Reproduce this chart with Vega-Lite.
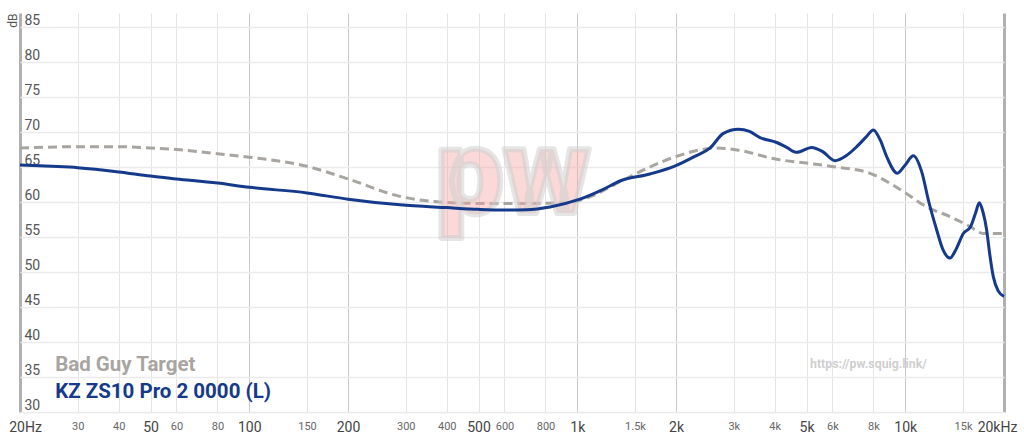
{
  "$schema": "https://vega.github.io/schema/vega-lite/v6.json",
  "width": 984,
  "height": 399,
  "autosize": "none",
  "padding": {"left": 20, "top": 13, "right": 20, "bottom": 31},
  "background": "white",
  "config": {"font": "Roboto", "view": {"stroke": null}},
  "datasets": {
    "target": [
      {"f": 20, "db": 67.7}, {"f": 30, "db": 67.9}, {"f": 40, "db": 67.9}, {"f": 50, "db": 67.7},
      {"f": 60, "db": 67.5}, {"f": 80, "db": 66.9}, {"f": 100, "db": 66.4}, {"f": 150, "db": 65.1},
      {"f": 200, "db": 63.3}, {"f": 288, "db": 60.8}, {"f": 381, "db": 60.0}, {"f": 500, "db": 59.8},
      {"f": 700, "db": 59.8}, {"f": 928, "db": 59.9}, {"f": 1100, "db": 60.8}, {"f": 1350, "db": 62.9},
      {"f": 1666, "db": 65.0}, {"f": 2000, "db": 66.5}, {"f": 2661, "db": 67.7}, {"f": 3100, "db": 67.4},
      {"f": 4056, "db": 66.1}, {"f": 5124, "db": 65.5}, {"f": 6130, "db": 65.0}, {"f": 7808, "db": 64.1},
      {"f": 9864, "db": 61.5}, {"f": 11628, "db": 59.3}, {"f": 13692, "db": 57.9}, {"f": 15750, "db": 56.5},
      {"f": 17298, "db": 55.5}, {"f": 20000, "db": 55.5}
    ],
    "measurement": [
      {"f": 20, "db": 65.3}, {"f": 25, "db": 65.1}, {"f": 30, "db": 64.9}, {"f": 40, "db": 64.3},
      {"f": 50, "db": 63.7}, {"f": 60, "db": 63.3}, {"f": 80, "db": 62.7}, {"f": 100, "db": 62.1},
      {"f": 150, "db": 61.3}, {"f": 200, "db": 60.4}, {"f": 288, "db": 59.6}, {"f": 400, "db": 59.2},
      {"f": 500, "db": 58.95}, {"f": 600, "db": 58.85}, {"f": 700, "db": 58.9}, {"f": 826, "db": 59.3},
      {"f": 1019, "db": 60.4}, {"f": 1200, "db": 61.8}, {"f": 1350, "db": 63.0}, {"f": 1666, "db": 64.0},
      {"f": 2000, "db": 65.2}, {"f": 2300, "db": 66.6}, {"f": 2538, "db": 67.7}, {"f": 2789, "db": 69.8},
      {"f": 3098, "db": 70.4}, {"f": 3350, "db": 70.1}, {"f": 3607, "db": 69.2}, {"f": 4056, "db": 68.5},
      {"f": 4350, "db": 67.8}, {"f": 4666, "db": 67.1}, {"f": 5186, "db": 67.8}, {"f": 5600, "db": 67.2},
      {"f": 6106, "db": 65.9}, {"f": 6600, "db": 66.6}, {"f": 7112, "db": 67.9}, {"f": 7600, "db": 69.3},
      {"f": 7992, "db": 70.3}, {"f": 8400, "db": 68.8}, {"f": 8774, "db": 66.5}, {"f": 9458, "db": 64.1},
      {"f": 10000, "db": 65.3}, {"f": 10582, "db": 66.6}, {"f": 11224, "db": 64.3}, {"f": 11800, "db": 60.0},
      {"f": 12470, "db": 56.0}, {"f": 13000, "db": 53.3}, {"f": 13692, "db": 52.0}, {"f": 14300, "db": 53.3},
      {"f": 15032, "db": 55.5}, {"f": 15830, "db": 56.5}, {"f": 16400, "db": 58.5}, {"f": 16814, "db": 59.9},
      {"f": 17200, "db": 58.8}, {"f": 17707, "db": 56.0}, {"f": 18100, "db": 52.5}, {"f": 18558, "db": 49.3},
      {"f": 19200, "db": 47.3}, {"f": 20000, "db": 46.5}
    ],
    "labels": [
      {"kind": "watermark", "label": "pw"},
      {"kind": "target", "label": "Bad Guy Target"},
      {"kind": "measurement", "label": "KZ ZS10 Pro 2 0000 (L)"},
      {"kind": "url", "label": "https://pw.squig.link/"}
    ]
  },
  "layer": [
    {
      "data": {"name": "target"},
      "mark": {"type": "line", "color": "#a8a5a1", "strokeWidth": 3, "strokeDash": [9, 5], "interpolate": "monotone"},
      "encoding": {
        "x": {
          "field": "f", "type": "quantitative",
          "scale": {"type": "log", "domain": [20, 20000], "nice": false},
          "axis": {
            "title": null,
            "values": [20, 30, 40, 50, 60, 80, 100, 150, 200, 300, 400, 500, 600, 800, 1000, 1500, 2000, 3000, 4000, 5000, 6000, 8000, 10000, 15000, 20000],
            "labelExpr": "datum.value == 20 ? '20Hz' : datum.value == 20000 ? '20kHz' : datum.value >= 1000 ? (datum.value / 1000) + 'k' : datum.value + ''",
            "domain": false, "ticks": false, "labelPadding": 8, "labelFlush": false, "labelOverlap": false, "labelBaseline": "top",
            "labelFontSize": {"condition": {"test": "indexof([20,50,100,200,500,1000,2000,5000,10000,20000], datum.value) >= 0", "value": 14}, "value": 11},
            "labelColor": {"condition": {"test": "indexof([20,50,100,200,500,1000,2000,5000,10000,20000], datum.value) >= 0", "value": "#444444"}, "value": "#666666"},
            "labelOffset": {"condition": [{"test": "datum.value == 20", "value": 5}, {"test": "datum.value == 20000", "value": -7}], "value": 0},
            "gridColor": {"condition": [{"test": "datum.value == 20 || datum.value == 20000", "value": "#b0b0b0"}, {"test": "indexof([100,200,1000,2000,10000], datum.value) >= 0", "value": "#c9c9c9"}], "value": "#e4e4e4"},
            "gridWidth": {"condition": {"test": "datum.value == 20 || datum.value == 20000", "value": 3}, "value": 1}
          }
        },
        "y": {
          "field": "db", "type": "quantitative",
          "scale": {"domain": [30, 87], "nice": false, "zero": false},
          "axis": {
            "title": "dB",
            "values": [30, 35, 40, 45, 50, 55, 60, 65, 70, 75, 80, 85],
            "domain": false, "ticks": false, "labelOverlap": false, "labelAlign": "left", "labelPadding": -4, "labelBaseline": "bottom",
            "labelFontSize": 14, "labelColor": "#555555", "gridColor": "#ebebeb", "gridWidth": 1.5,
            "titleAngle": -90, "titleX": -8, "titleY": 0, "titleAlign": "right", "titleBaseline": "middle", "titleFontSize": 12, "titleFontWeight": "normal", "titleColor": "#555555"
          }
        }
      }
    },
    {
      "data": {"name": "labels"},
      "transform": [{"filter": "datum.kind == 'watermark'"}],
      "mark": {"type": "text", "font": "Roboto", "fontWeight": 900, "fontSize": 120, "fill": "#f6a4a4", "fillOpacity": 0.42, "stroke": "#d0d0d0", "strokeWidth": 6, "strokeOpacity": 0.55, "strokeJoin": "round", "align": "center", "baseline": "alphabetic"},
      "encoding": {
        "x": {
          "datum": 637,
          "axis": {
            "title": null,
            "values": [20, 30, 40, 50, 60, 80, 100, 150, 200, 300, 400, 500, 600, 800, 1000, 1500, 2000, 3000, 4000, 5000, 6000, 8000, 10000, 15000, 20000],
            "labelExpr": "datum.value == 20 ? '20Hz' : datum.value == 20000 ? '20kHz' : datum.value >= 1000 ? (datum.value / 1000) + 'k' : datum.value + ''",
            "domain": false, "ticks": false, "labelPadding": 8, "labelFlush": false, "labelOverlap": false, "labelBaseline": "top",
            "labelFontSize": {"condition": {"test": "indexof([20,50,100,200,500,1000,2000,5000,10000,20000], datum.value) >= 0", "value": 14}, "value": 11},
            "labelColor": {"condition": {"test": "indexof([20,50,100,200,500,1000,2000,5000,10000,20000], datum.value) >= 0", "value": "#444444"}, "value": "#666666"},
            "labelOffset": {"condition": [{"test": "datum.value == 20", "value": 5}, {"test": "datum.value == 20000", "value": -7}], "value": 0},
            "gridColor": {"condition": [{"test": "datum.value == 20 || datum.value == 20000", "value": "#b0b0b0"}, {"test": "indexof([100,200,1000,2000,10000], datum.value) >= 0", "value": "#c9c9c9"}], "value": "#e4e4e4"},
            "gridWidth": {"condition": {"test": "datum.value == 20 || datum.value == 20000", "value": 3}, "value": 1}
          }
        },
        "y": {
          "datum": 58.5,
          "axis": {
            "title": "dB",
            "values": [30, 35, 40, 45, 50, 55, 60, 65, 70, 75, 80, 85],
            "domain": false, "ticks": false, "labelOverlap": false, "labelAlign": "left", "labelPadding": -4, "labelBaseline": "bottom",
            "labelFontSize": 14, "labelColor": "#555555", "gridColor": "#ebebeb", "gridWidth": 1.5,
            "titleAngle": -90, "titleX": -8, "titleY": 0, "titleAlign": "right", "titleBaseline": "middle", "titleFontSize": 12, "titleFontWeight": "normal", "titleColor": "#555555"
          }
        },
        "text": {"field": "label"}
      }
    },
    {
      "data": {"name": "measurement"},
      "mark": {"type": "line", "color": "#153a8b", "strokeWidth": 3, "interpolate": "monotone"},
      "encoding": {
        "x": {
          "field": "f", "type": "quantitative",
          "axis": {
            "title": null,
            "values": [20, 30, 40, 50, 60, 80, 100, 150, 200, 300, 400, 500, 600, 800, 1000, 1500, 2000, 3000, 4000, 5000, 6000, 8000, 10000, 15000, 20000],
            "labelExpr": "datum.value == 20 ? '20Hz' : datum.value == 20000 ? '20kHz' : datum.value >= 1000 ? (datum.value / 1000) + 'k' : datum.value + ''",
            "domain": false, "ticks": false, "labelPadding": 8, "labelFlush": false, "labelOverlap": false, "labelBaseline": "top",
            "labelFontSize": {"condition": {"test": "indexof([20,50,100,200,500,1000,2000,5000,10000,20000], datum.value) >= 0", "value": 14}, "value": 11},
            "labelColor": {"condition": {"test": "indexof([20,50,100,200,500,1000,2000,5000,10000,20000], datum.value) >= 0", "value": "#444444"}, "value": "#666666"},
            "labelOffset": {"condition": [{"test": "datum.value == 20", "value": 5}, {"test": "datum.value == 20000", "value": -7}], "value": 0},
            "gridColor": {"condition": [{"test": "datum.value == 20 || datum.value == 20000", "value": "#b0b0b0"}, {"test": "indexof([100,200,1000,2000,10000], datum.value) >= 0", "value": "#c9c9c9"}], "value": "#e4e4e4"},
            "gridWidth": {"condition": {"test": "datum.value == 20 || datum.value == 20000", "value": 3}, "value": 1}
          }
        },
        "y": {
          "field": "db", "type": "quantitative",
          "axis": {
            "title": "dB",
            "values": [30, 35, 40, 45, 50, 55, 60, 65, 70, 75, 80, 85],
            "domain": false, "ticks": false, "labelOverlap": false, "labelAlign": "left", "labelPadding": -4, "labelBaseline": "bottom",
            "labelFontSize": 14, "labelColor": "#555555", "gridColor": "#ebebeb", "gridWidth": 1.5,
            "titleAngle": -90, "titleX": -8, "titleY": 0, "titleAlign": "right", "titleBaseline": "middle", "titleFontSize": 12, "titleFontWeight": "normal", "titleColor": "#555555"
          }
        }
      }
    },
    {
      "data": {"name": "labels"},
      "transform": [{"filter": "datum.kind == 'target'"}],
      "mark": {"type": "text", "font": "Roboto", "fontWeight": "bold", "fontSize": 20.5, "fill": "#a8a5a1", "align": "left", "baseline": "middle"},
      "encoding": {
        "x": {
          "datum": 25.6,
          "axis": {
            "title": null,
            "values": [20, 30, 40, 50, 60, 80, 100, 150, 200, 300, 400, 500, 600, 800, 1000, 1500, 2000, 3000, 4000, 5000, 6000, 8000, 10000, 15000, 20000],
            "labelExpr": "datum.value == 20 ? '20Hz' : datum.value == 20000 ? '20kHz' : datum.value >= 1000 ? (datum.value / 1000) + 'k' : datum.value + ''",
            "domain": false, "ticks": false, "labelPadding": 8, "labelFlush": false, "labelOverlap": false, "labelBaseline": "top",
            "labelFontSize": {"condition": {"test": "indexof([20,50,100,200,500,1000,2000,5000,10000,20000], datum.value) >= 0", "value": 14}, "value": 11},
            "labelColor": {"condition": {"test": "indexof([20,50,100,200,500,1000,2000,5000,10000,20000], datum.value) >= 0", "value": "#444444"}, "value": "#666666"},
            "labelOffset": {"condition": [{"test": "datum.value == 20", "value": 5}, {"test": "datum.value == 20000", "value": -7}], "value": 0},
            "gridColor": {"condition": [{"test": "datum.value == 20 || datum.value == 20000", "value": "#b0b0b0"}, {"test": "indexof([100,200,1000,2000,10000], datum.value) >= 0", "value": "#c9c9c9"}], "value": "#e4e4e4"},
            "gridWidth": {"condition": {"test": "datum.value == 20 || datum.value == 20000", "value": 3}, "value": 1}
          }
        },
        "y": {
          "datum": 36.7,
          "axis": {
            "title": "dB",
            "values": [30, 35, 40, 45, 50, 55, 60, 65, 70, 75, 80, 85],
            "domain": false, "ticks": false, "labelOverlap": false, "labelAlign": "left", "labelPadding": -4, "labelBaseline": "bottom",
            "labelFontSize": 14, "labelColor": "#555555", "gridColor": "#ebebeb", "gridWidth": 1.5,
            "titleAngle": -90, "titleX": -8, "titleY": 0, "titleAlign": "right", "titleBaseline": "middle", "titleFontSize": 12, "titleFontWeight": "normal", "titleColor": "#555555"
          }
        },
        "text": {"field": "label"}
      }
    },
    {
      "data": {"name": "labels"},
      "transform": [{"filter": "datum.kind == 'measurement'"}],
      "mark": {"type": "text", "font": "Roboto", "fontWeight": "bold", "fontSize": 20.5, "fill": "#153a8b", "align": "left", "baseline": "middle"},
      "encoding": {
        "x": {
          "datum": 25.6,
          "axis": {
            "title": null,
            "values": [20, 30, 40, 50, 60, 80, 100, 150, 200, 300, 400, 500, 600, 800, 1000, 1500, 2000, 3000, 4000, 5000, 6000, 8000, 10000, 15000, 20000],
            "labelExpr": "datum.value == 20 ? '20Hz' : datum.value == 20000 ? '20kHz' : datum.value >= 1000 ? (datum.value / 1000) + 'k' : datum.value + ''",
            "domain": false, "ticks": false, "labelPadding": 8, "labelFlush": false, "labelOverlap": false, "labelBaseline": "top",
            "labelFontSize": {"condition": {"test": "indexof([20,50,100,200,500,1000,2000,5000,10000,20000], datum.value) >= 0", "value": 14}, "value": 11},
            "labelColor": {"condition": {"test": "indexof([20,50,100,200,500,1000,2000,5000,10000,20000], datum.value) >= 0", "value": "#444444"}, "value": "#666666"},
            "labelOffset": {"condition": [{"test": "datum.value == 20", "value": 5}, {"test": "datum.value == 20000", "value": -7}], "value": 0},
            "gridColor": {"condition": [{"test": "datum.value == 20 || datum.value == 20000", "value": "#b0b0b0"}, {"test": "indexof([100,200,1000,2000,10000], datum.value) >= 0", "value": "#c9c9c9"}], "value": "#e4e4e4"},
            "gridWidth": {"condition": {"test": "datum.value == 20 || datum.value == 20000", "value": 3}, "value": 1}
          }
        },
        "y": {
          "datum": 32.9,
          "axis": {
            "title": "dB",
            "values": [30, 35, 40, 45, 50, 55, 60, 65, 70, 75, 80, 85],
            "domain": false, "ticks": false, "labelOverlap": false, "labelAlign": "left", "labelPadding": -4, "labelBaseline": "bottom",
            "labelFontSize": 14, "labelColor": "#555555", "gridColor": "#ebebeb", "gridWidth": 1.5,
            "titleAngle": -90, "titleX": -8, "titleY": 0, "titleAlign": "right", "titleBaseline": "middle", "titleFontSize": 12, "titleFontWeight": "normal", "titleColor": "#555555"
          }
        },
        "text": {"field": "label"}
      }
    },
    {
      "data": {"name": "labels"},
      "transform": [{"filter": "datum.kind == 'url'"}],
      "mark": {"type": "text", "font": "Roboto", "fontWeight": "bold", "fontSize": 12.3, "fill": "#cfcfcf", "align": "left", "baseline": "middle"},
      "encoding": {
        "x": {
          "datum": 5124,
          "axis": {
            "title": null,
            "values": [20, 30, 40, 50, 60, 80, 100, 150, 200, 300, 400, 500, 600, 800, 1000, 1500, 2000, 3000, 4000, 5000, 6000, 8000, 10000, 15000, 20000],
            "labelExpr": "datum.value == 20 ? '20Hz' : datum.value == 20000 ? '20kHz' : datum.value >= 1000 ? (datum.value / 1000) + 'k' : datum.value + ''",
            "domain": false, "ticks": false, "labelPadding": 8, "labelFlush": false, "labelOverlap": false, "labelBaseline": "top",
            "labelFontSize": {"condition": {"test": "indexof([20,50,100,200,500,1000,2000,5000,10000,20000], datum.value) >= 0", "value": 14}, "value": 11},
            "labelColor": {"condition": {"test": "indexof([20,50,100,200,500,1000,2000,5000,10000,20000], datum.value) >= 0", "value": "#444444"}, "value": "#666666"},
            "labelOffset": {"condition": [{"test": "datum.value == 20", "value": 5}, {"test": "datum.value == 20000", "value": -7}], "value": 0},
            "gridColor": {"condition": [{"test": "datum.value == 20 || datum.value == 20000", "value": "#b0b0b0"}, {"test": "indexof([100,200,1000,2000,10000], datum.value) >= 0", "value": "#c9c9c9"}], "value": "#e4e4e4"},
            "gridWidth": {"condition": {"test": "datum.value == 20 || datum.value == 20000", "value": 3}, "value": 1}
          }
        },
        "y": {
          "datum": 36.9,
          "axis": {
            "title": "dB",
            "values": [30, 35, 40, 45, 50, 55, 60, 65, 70, 75, 80, 85],
            "domain": false, "ticks": false, "labelOverlap": false, "labelAlign": "left", "labelPadding": -4, "labelBaseline": "bottom",
            "labelFontSize": 14, "labelColor": "#555555", "gridColor": "#ebebeb", "gridWidth": 1.5,
            "titleAngle": -90, "titleX": -8, "titleY": 0, "titleAlign": "right", "titleBaseline": "middle", "titleFontSize": 12, "titleFontWeight": "normal", "titleColor": "#555555"
          }
        },
        "text": {"field": "label"}
      }
    }
  ]
}
